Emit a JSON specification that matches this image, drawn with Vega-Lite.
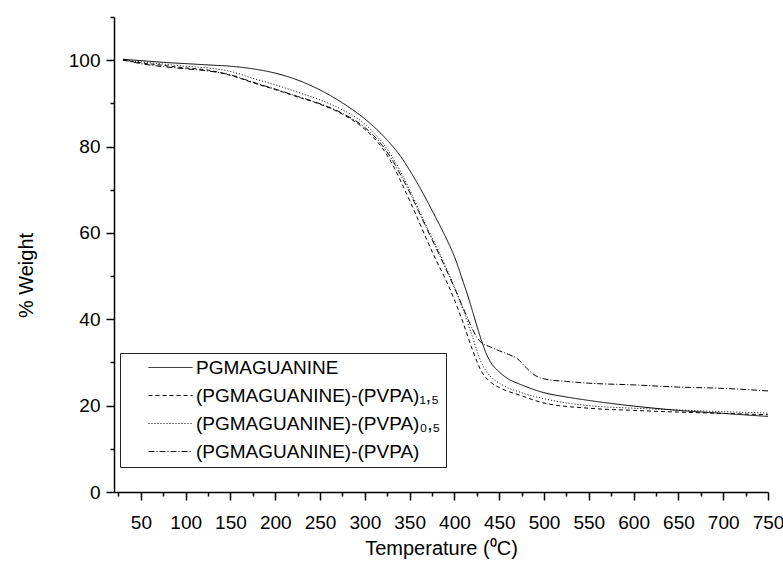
{
  "$schema": "https://vega.github.io/schema/vega-lite/v6.json",
  "width": 654,
  "height": 475,
  "autosize": "none",
  "padding": {"left": 114, "top": 17, "right": 15, "bottom": 80},
  "background": "white",
  "config": {
    "view": {"stroke": null},
    "axis": {
      "grid": false,
      "domainColor": "black",
      "domainWidth": 1.5,
      "tickColor": "black",
      "tickWidth": 1.5,
      "labelColor": "black",
      "labelFont": "Liberation Sans",
      "labelFontSize": 19,
      "titleFont": "Liberation Sans",
      "titleFontSize": 20,
      "titleFontWeight": "normal",
      "titleColor": "black"
    }
  },
  "data": {
    "values": [
      {"s": "PGMAGUANINE", "t": 30, "w": 100.2},
      {"s": "PGMAGUANINE", "t": 50, "w": 99.9},
      {"s": "PGMAGUANINE", "t": 75, "w": 99.5},
      {"s": "PGMAGUANINE", "t": 100, "w": 99.2},
      {"s": "PGMAGUANINE", "t": 125, "w": 98.9},
      {"s": "PGMAGUANINE", "t": 150, "w": 98.6},
      {"s": "PGMAGUANINE", "t": 175, "w": 98.0},
      {"s": "PGMAGUANINE", "t": 200, "w": 97.0},
      {"s": "PGMAGUANINE", "t": 225, "w": 95.4},
      {"s": "PGMAGUANINE", "t": 250, "w": 93.1},
      {"s": "PGMAGUANINE", "t": 275, "w": 90.1},
      {"s": "PGMAGUANINE", "t": 300, "w": 86.4},
      {"s": "PGMAGUANINE", "t": 310, "w": 84.6},
      {"s": "PGMAGUANINE", "t": 320, "w": 82.6},
      {"s": "PGMAGUANINE", "t": 330, "w": 80.3},
      {"s": "PGMAGUANINE", "t": 340, "w": 77.7},
      {"s": "PGMAGUANINE", "t": 350, "w": 74.5},
      {"s": "PGMAGUANINE", "t": 360, "w": 71.0},
      {"s": "PGMAGUANINE", "t": 370, "w": 67.2},
      {"s": "PGMAGUANINE", "t": 380, "w": 63.2},
      {"s": "PGMAGUANINE", "t": 390, "w": 59.1},
      {"s": "PGMAGUANINE", "t": 400, "w": 54.5},
      {"s": "PGMAGUANINE", "t": 410, "w": 48.5},
      {"s": "PGMAGUANINE", "t": 415, "w": 45.4},
      {"s": "PGMAGUANINE", "t": 420, "w": 42.0},
      {"s": "PGMAGUANINE", "t": 425, "w": 38.5},
      {"s": "PGMAGUANINE", "t": 430, "w": 35.2},
      {"s": "PGMAGUANINE", "t": 435, "w": 32.3},
      {"s": "PGMAGUANINE", "t": 440, "w": 30.2},
      {"s": "PGMAGUANINE", "t": 450, "w": 27.8},
      {"s": "PGMAGUANINE", "t": 460, "w": 26.2},
      {"s": "PGMAGUANINE", "t": 475, "w": 24.8},
      {"s": "PGMAGUANINE", "t": 500, "w": 23.0},
      {"s": "PGMAGUANINE", "t": 525, "w": 22.0},
      {"s": "PGMAGUANINE", "t": 550, "w": 21.2},
      {"s": "PGMAGUANINE", "t": 600, "w": 19.9},
      {"s": "PGMAGUANINE", "t": 650, "w": 18.9},
      {"s": "PGMAGUANINE", "t": 700, "w": 18.2},
      {"s": "PGMAGUANINE", "t": 750, "w": 17.5},

      {"s": "(PGMAGUANINE)-(PVPA)₁,₅", "t": 30, "w": 100.0},
      {"s": "(PGMAGUANINE)-(PVPA)₁,₅", "t": 50, "w": 99.4},
      {"s": "(PGMAGUANINE)-(PVPA)₁,₅", "t": 75, "w": 98.8},
      {"s": "(PGMAGUANINE)-(PVPA)₁,₅", "t": 100, "w": 98.2},
      {"s": "(PGMAGUANINE)-(PVPA)₁,₅", "t": 125, "w": 97.7},
      {"s": "(PGMAGUANINE)-(PVPA)₁,₅", "t": 150, "w": 96.5},
      {"s": "(PGMAGUANINE)-(PVPA)₁,₅", "t": 175, "w": 94.8},
      {"s": "(PGMAGUANINE)-(PVPA)₁,₅", "t": 200, "w": 93.2},
      {"s": "(PGMAGUANINE)-(PVPA)₁,₅", "t": 225, "w": 91.5},
      {"s": "(PGMAGUANINE)-(PVPA)₁,₅", "t": 250, "w": 89.8},
      {"s": "(PGMAGUANINE)-(PVPA)₁,₅", "t": 275, "w": 87.5},
      {"s": "(PGMAGUANINE)-(PVPA)₁,₅", "t": 300, "w": 84.0},
      {"s": "(PGMAGUANINE)-(PVPA)₁,₅", "t": 310, "w": 82.0},
      {"s": "(PGMAGUANINE)-(PVPA)₁,₅", "t": 320, "w": 79.5},
      {"s": "(PGMAGUANINE)-(PVPA)₁,₅", "t": 330, "w": 76.2},
      {"s": "(PGMAGUANINE)-(PVPA)₁,₅", "t": 340, "w": 72.0},
      {"s": "(PGMAGUANINE)-(PVPA)₁,₅", "t": 350, "w": 67.5},
      {"s": "(PGMAGUANINE)-(PVPA)₁,₅", "t": 360, "w": 62.8},
      {"s": "(PGMAGUANINE)-(PVPA)₁,₅", "t": 370, "w": 58.0},
      {"s": "(PGMAGUANINE)-(PVPA)₁,₅", "t": 380, "w": 53.5},
      {"s": "(PGMAGUANINE)-(PVPA)₁,₅", "t": 390, "w": 49.3},
      {"s": "(PGMAGUANINE)-(PVPA)₁,₅", "t": 400, "w": 44.5},
      {"s": "(PGMAGUANINE)-(PVPA)₁,₅", "t": 410, "w": 39.0},
      {"s": "(PGMAGUANINE)-(PVPA)₁,₅", "t": 420, "w": 33.0},
      {"s": "(PGMAGUANINE)-(PVPA)₁,₅", "t": 430, "w": 28.0},
      {"s": "(PGMAGUANINE)-(PVPA)₁,₅", "t": 440, "w": 25.5},
      {"s": "(PGMAGUANINE)-(PVPA)₁,₅", "t": 450, "w": 24.2},
      {"s": "(PGMAGUANINE)-(PVPA)₁,₅", "t": 475, "w": 22.3},
      {"s": "(PGMAGUANINE)-(PVPA)₁,₅", "t": 500, "w": 20.6},
      {"s": "(PGMAGUANINE)-(PVPA)₁,₅", "t": 550, "w": 19.4},
      {"s": "(PGMAGUANINE)-(PVPA)₁,₅", "t": 600, "w": 18.9},
      {"s": "(PGMAGUANINE)-(PVPA)₁,₅", "t": 650, "w": 18.5},
      {"s": "(PGMAGUANINE)-(PVPA)₁,₅", "t": 700, "w": 18.2},
      {"s": "(PGMAGUANINE)-(PVPA)₁,₅", "t": 750, "w": 17.9},

      {"s": "(PGMAGUANINE)-(PVPA)₀,₅", "t": 30, "w": 100.0},
      {"s": "(PGMAGUANINE)-(PVPA)₀,₅", "t": 50, "w": 99.6},
      {"s": "(PGMAGUANINE)-(PVPA)₀,₅", "t": 75, "w": 99.1},
      {"s": "(PGMAGUANINE)-(PVPA)₀,₅", "t": 100, "w": 98.6},
      {"s": "(PGMAGUANINE)-(PVPA)₀,₅", "t": 125, "w": 98.2},
      {"s": "(PGMAGUANINE)-(PVPA)₀,₅", "t": 150, "w": 97.4},
      {"s": "(PGMAGUANINE)-(PVPA)₀,₅", "t": 175, "w": 95.8},
      {"s": "(PGMAGUANINE)-(PVPA)₀,₅", "t": 200, "w": 94.3},
      {"s": "(PGMAGUANINE)-(PVPA)₀,₅", "t": 225, "w": 92.6},
      {"s": "(PGMAGUANINE)-(PVPA)₀,₅", "t": 250, "w": 90.8},
      {"s": "(PGMAGUANINE)-(PVPA)₀,₅", "t": 275, "w": 88.5},
      {"s": "(PGMAGUANINE)-(PVPA)₀,₅", "t": 300, "w": 85.2},
      {"s": "(PGMAGUANINE)-(PVPA)₀,₅", "t": 310, "w": 83.2},
      {"s": "(PGMAGUANINE)-(PVPA)₀,₅", "t": 320, "w": 80.8},
      {"s": "(PGMAGUANINE)-(PVPA)₀,₅", "t": 330, "w": 77.8},
      {"s": "(PGMAGUANINE)-(PVPA)₀,₅", "t": 340, "w": 74.2},
      {"s": "(PGMAGUANINE)-(PVPA)₀,₅", "t": 350, "w": 70.0},
      {"s": "(PGMAGUANINE)-(PVPA)₀,₅", "t": 360, "w": 65.5},
      {"s": "(PGMAGUANINE)-(PVPA)₀,₅", "t": 370, "w": 61.0},
      {"s": "(PGMAGUANINE)-(PVPA)₀,₅", "t": 380, "w": 56.8},
      {"s": "(PGMAGUANINE)-(PVPA)₀,₅", "t": 390, "w": 52.3},
      {"s": "(PGMAGUANINE)-(PVPA)₀,₅", "t": 400, "w": 47.5},
      {"s": "(PGMAGUANINE)-(PVPA)₀,₅", "t": 410, "w": 42.0},
      {"s": "(PGMAGUANINE)-(PVPA)₀,₅", "t": 420, "w": 36.0},
      {"s": "(PGMAGUANINE)-(PVPA)₀,₅", "t": 430, "w": 30.0},
      {"s": "(PGMAGUANINE)-(PVPA)₀,₅", "t": 440, "w": 26.8},
      {"s": "(PGMAGUANINE)-(PVPA)₀,₅", "t": 450, "w": 25.2},
      {"s": "(PGMAGUANINE)-(PVPA)₀,₅", "t": 475, "w": 23.0},
      {"s": "(PGMAGUANINE)-(PVPA)₀,₅", "t": 500, "w": 21.6},
      {"s": "(PGMAGUANINE)-(PVPA)₀,₅", "t": 550, "w": 20.0},
      {"s": "(PGMAGUANINE)-(PVPA)₀,₅", "t": 600, "w": 19.4},
      {"s": "(PGMAGUANINE)-(PVPA)₀,₅", "t": 650, "w": 19.0},
      {"s": "(PGMAGUANINE)-(PVPA)₀,₅", "t": 700, "w": 18.6},
      {"s": "(PGMAGUANINE)-(PVPA)₀,₅", "t": 750, "w": 18.3},

      {"s": "(PGMAGUANINE)-(PVPA)", "t": 30, "w": 100.1},
      {"s": "(PGMAGUANINE)-(PVPA)", "t": 50, "w": 99.2},
      {"s": "(PGMAGUANINE)-(PVPA)", "t": 75, "w": 98.5},
      {"s": "(PGMAGUANINE)-(PVPA)", "t": 100, "w": 98.0},
      {"s": "(PGMAGUANINE)-(PVPA)", "t": 125, "w": 97.5},
      {"s": "(PGMAGUANINE)-(PVPA)", "t": 150, "w": 96.6},
      {"s": "(PGMAGUANINE)-(PVPA)", "t": 175, "w": 94.9},
      {"s": "(PGMAGUANINE)-(PVPA)", "t": 200, "w": 93.3},
      {"s": "(PGMAGUANINE)-(PVPA)", "t": 225, "w": 91.6},
      {"s": "(PGMAGUANINE)-(PVPA)", "t": 250, "w": 89.9},
      {"s": "(PGMAGUANINE)-(PVPA)", "t": 275, "w": 87.7},
      {"s": "(PGMAGUANINE)-(PVPA)", "t": 300, "w": 84.4},
      {"s": "(PGMAGUANINE)-(PVPA)", "t": 310, "w": 82.5},
      {"s": "(PGMAGUANINE)-(PVPA)", "t": 320, "w": 80.1},
      {"s": "(PGMAGUANINE)-(PVPA)", "t": 330, "w": 77.1},
      {"s": "(PGMAGUANINE)-(PVPA)", "t": 340, "w": 73.4},
      {"s": "(PGMAGUANINE)-(PVPA)", "t": 350, "w": 69.4},
      {"s": "(PGMAGUANINE)-(PVPA)", "t": 360, "w": 65.0},
      {"s": "(PGMAGUANINE)-(PVPA)", "t": 370, "w": 60.6},
      {"s": "(PGMAGUANINE)-(PVPA)", "t": 380, "w": 56.3},
      {"s": "(PGMAGUANINE)-(PVPA)", "t": 390, "w": 51.9},
      {"s": "(PGMAGUANINE)-(PVPA)", "t": 400, "w": 47.3},
      {"s": "(PGMAGUANINE)-(PVPA)", "t": 410, "w": 42.5},
      {"s": "(PGMAGUANINE)-(PVPA)", "t": 420, "w": 37.8},
      {"s": "(PGMAGUANINE)-(PVPA)", "t": 425, "w": 35.8},
      {"s": "(PGMAGUANINE)-(PVPA)", "t": 430, "w": 34.6},
      {"s": "(PGMAGUANINE)-(PVPA)", "t": 440, "w": 33.6},
      {"s": "(PGMAGUANINE)-(PVPA)", "t": 450, "w": 32.7},
      {"s": "(PGMAGUANINE)-(PVPA)", "t": 460, "w": 31.9},
      {"s": "(PGMAGUANINE)-(PVPA)", "t": 470, "w": 30.9},
      {"s": "(PGMAGUANINE)-(PVPA)", "t": 480, "w": 28.8},
      {"s": "(PGMAGUANINE)-(PVPA)", "t": 490, "w": 27.0},
      {"s": "(PGMAGUANINE)-(PVPA)", "t": 500, "w": 26.2},
      {"s": "(PGMAGUANINE)-(PVPA)", "t": 525, "w": 25.6},
      {"s": "(PGMAGUANINE)-(PVPA)", "t": 550, "w": 25.2},
      {"s": "(PGMAGUANINE)-(PVPA)", "t": 600, "w": 24.8},
      {"s": "(PGMAGUANINE)-(PVPA)", "t": 650, "w": 24.3},
      {"s": "(PGMAGUANINE)-(PVPA)", "t": 700, "w": 24.0},
      {"s": "(PGMAGUANINE)-(PVPA)", "t": 750, "w": 23.4}
    ]
  },
  "mark": {"type": "line", "color": "black", "strokeWidth": 1, "interpolate": "monotone"},
  "encoding": {
    "x": {
      "field": "t",
      "type": "quantitative",
      "scale": {"domain": [20, 750], "nice": false, "zero": false},
      "axis": {
        "title": "Temperature (⁰C)",
        "values": [25, 50, 75, 100, 125, 150, 175, 200, 225, 250, 275, 300, 325, 350, 375, 400, 425, 450, 475, 500, 525, 550, 575, 600, 625, 650, 675, 700, 725, 750],
        "labelExpr": "datum.value % 50 === 0 ? datum.label : ''",
        "tickSize": {"condition": {"test": "datum.value % 50 === 0", "value": 8}, "value": 4},
        "labelFlush": false,
        "labelOverlap": false,
        "labelPadding": 13,
        "titlePadding": 6
      }
    },
    "y": {
      "field": "w",
      "type": "quantitative",
      "scale": {"domain": [0, 110], "nice": false},
      "axis": {
        "title": "% Weight",
        "values": [0, 10, 20, 30, 40, 50, 60, 70, 80, 90, 100, 110],
        "labelExpr": "datum.value % 20 === 0 ? datum.label : ''",
        "tickSize": {"condition": {"test": "datum.value % 20 === 0", "value": 8}, "value": 4},
        "labelOverlap": false,
        "labelFlush": false,
        "labelPadding": 6,
        "titlePadding": 32,
        "titleY": 258
      }
    },
    "strokeDash": {
      "field": "s",
      "type": "nominal",
      "scale": {
        "domain": ["PGMAGUANINE", "(PGMAGUANINE)-(PVPA)₁,₅", "(PGMAGUANINE)-(PVPA)₀,₅", "(PGMAGUANINE)-(PVPA)"],
        "range": [[1, 0], [4, 3], [1, 2], [6, 2, 1, 2]]
      },
      "legend": {
        "title": null,
        "orient": "none",
        "legendX": 6,
        "legendY": 336,
        "strokeColor": "#222222",
        "fillColor": "white",
        "padding": 5,
        "symbolOffset": 36,
        "symbolType": "M-4,0H4",
        "symbolSize": 121,
        "symbolStrokeWidth": 1,
        "symbolStrokeColor": "black",
        "labelFont": "Liberation Sans",
        "labelFontSize": 19,
        "labelColor": "black",
        "labelOffset": 16,
        "labelLimit": 400,
        "rowPadding": 8
      }
    }
  }
}
